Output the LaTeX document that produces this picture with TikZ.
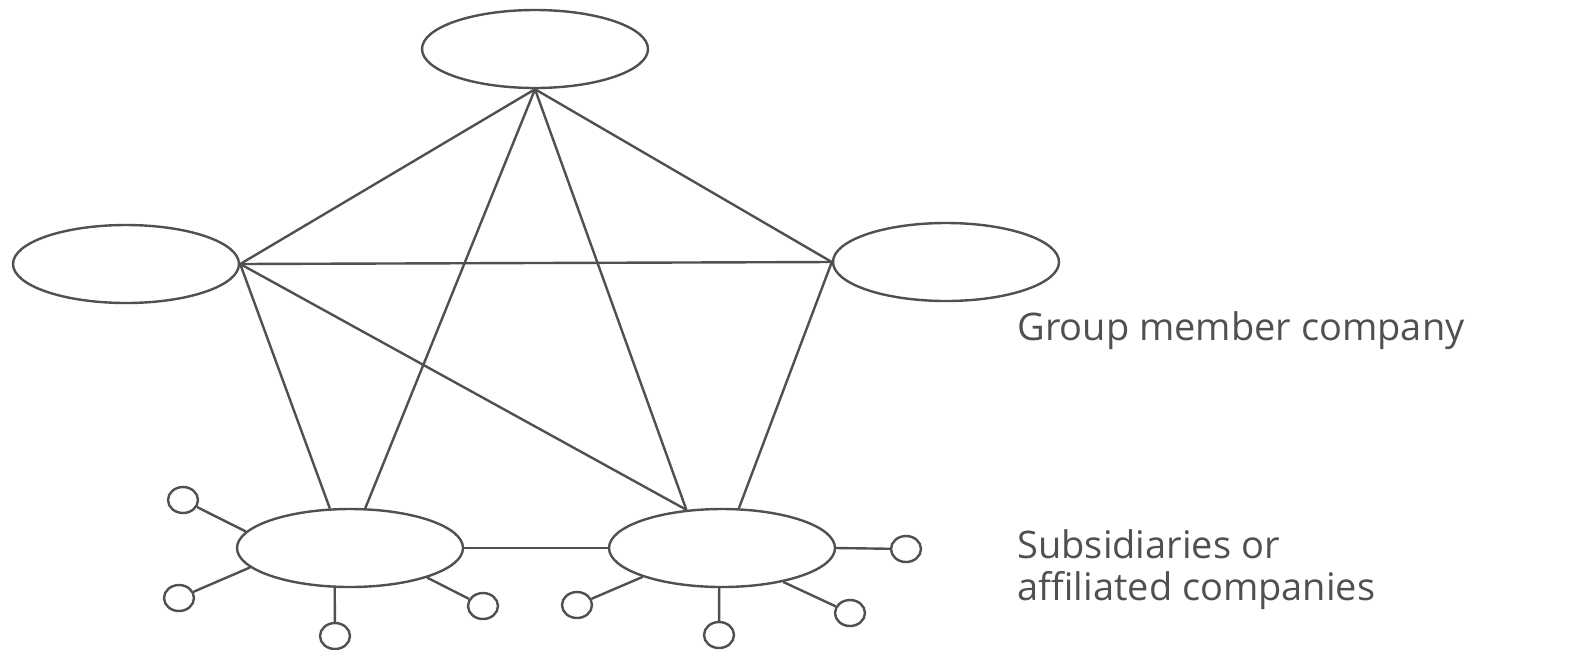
\documentclass[tikz,border=0pt]{standalone}
\usepackage{fontspec}
\setmainfont{Open Sans}
\usetikzlibrary{shapes.geometric}
\definecolor{ink}{HTML}{505050}
\tikzset{
  company/.style={draw=ink, line width=1.2pt, ellipse, inner sep=0pt, minimum width=113pt, minimum height=39pt},
  subco/.style={draw=ink, line width=1.2pt, ellipse, inner sep=0pt, minimum width=15pt, minimum height=13pt},
  link/.style={draw=ink, line width=1.2pt},
  label/.style={text=ink, font=\fontsize{19}{21}\selectfont, inner sep=0pt}
}
\begin{document}
\begin{tikzpicture}[x=0.5pt, y=-0.5pt]
\useasboundingbox (0,0) rectangle (1583,649);
% group member companies
\node[company] (top) at (535,49) {};
\node[company] (ml) at (126,264) {};
\node[company] (mr) at (946,262) {};
\node[company] (bl) at (350,548) {};
\node[company] (br) at (722,548) {};
% links among members
\draw[link] (top.south) -- (ml.east);
\draw[link] (top.south) -- (mr.west);
\draw[link] (top.south) -- (bl.69);
\draw[link] (top.south) -- (br.133);
\draw[link] (ml.east) -- (mr.west);
\draw[link] (ml.east) -- (bl.117);
\draw[link] (ml.east) -- (br.133);
\draw[link] (mr.west) -- (br.67);
\draw[link] (bl.east) -- (br.west);
% subsidiaries
\node[subco] (c1) at (183,500) {};
\node[subco] (c2) at (179,598) {};
\node[subco] (c3) at (335,636) {};
\node[subco] (c4) at (483,606) {};
\node[subco] (c5) at (906,549) {};
\node[subco] (c6) at (577,605) {};
\node[subco] (c7) at (719,635) {};
\node[subco] (c8) at (850,613) {};
\draw[link] (bl.171) -- (c1);
\draw[link] (bl.191) -- (c2);
\draw[link] (bl.249) -- (c3);
\draw[link] (bl.339) -- (c4);
\draw[link] (br.east) -- (c5);
\draw[link] (br.200) -- (c6);
\draw[link] (br.266) -- (c7);
\draw[link] (br.331) -- (c8);
% labels
\node[label, anchor=base west] (lab1) at (1017,340) {Group member company};
\node[label, anchor=base west, align=left] (lab2) at (1017,600) {Subsidiaries or\\affiliated companies};
\end{tikzpicture}
\end{document}
